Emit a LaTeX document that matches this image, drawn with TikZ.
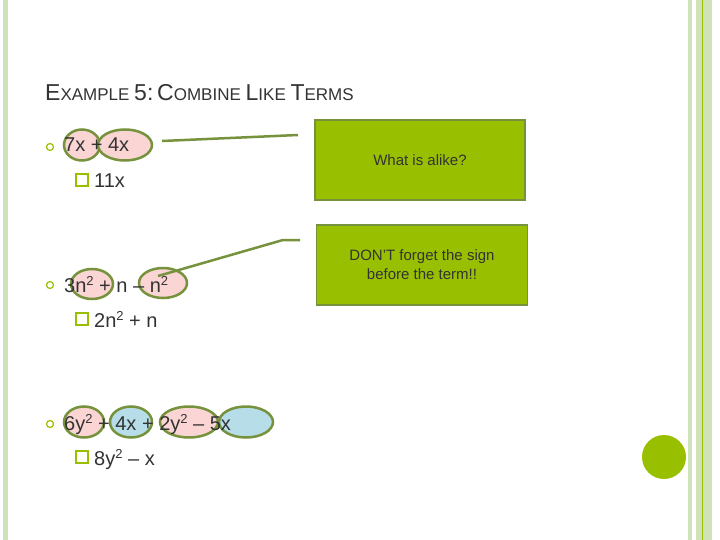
\documentclass[tikz,border=0pt]{standalone}
\usepackage{fontspec}
\setmainfont{Liberation Sans}
\usetikzlibrary{shapes.geometric}
\definecolor{olivec}{HTML}{76923C}
\definecolor{lgreen}{HTML}{99C000}
\definecolor{pinkf}{HTML}{FBD4D4}
\definecolor{bluef}{HTML}{B6DDE8}
\definecolor{stripe}{HTML}{CFE2B9}
\definecolor{txt}{HTML}{333333}
\begin{document}
\begin{tikzpicture}[x=1pt,y=-1pt,
  term/.style={ellipse,draw=olivec,line width=2.5pt,inner sep=0pt},
  body/.style={font=\fontsize{20}{24}\selectfont,text=txt,anchor=base west,inner sep=0pt},
  sub/.style={font=\fontsize{20}{24}\selectfont,text=txt,anchor=base west,inner sep=0pt},
  bul/.style={circle,draw=lgreen,line width=1.2pt,minimum size=7pt,inner sep=0pt},
  sq/.style={rectangle,draw=lgreen,line width=1.2pt,minimum size=12pt,inner sep=0pt},
  callout/.style={rectangle,draw=olivec,line width=1.5pt,fill=lgreen,text=txt,align=center,font=\fontsize{15}{19}\selectfont},
  conn/.style={draw=olivec,line width=2.5pt}]
\useasboundingbox (0,0) rectangle (720,540);
\fill[white] (0,0) rectangle (720,540);
\fill[stripe] (3,0) rectangle (8,540);
\fill[stripe] (688,0) rectangle (692,540);
\fill[stripe] (696,0) rectangle (712,540);
\draw[lgreen,line width=0.8pt] (702,0) -- (702,540);
\node[anchor=base west,inner sep=0pt,text=txt] (title) at (45,101) {\fontsize{23}{26}\selectfont E\fontsize{17}{20}\selectfont XAMPLE \fontsize{23}{26}\selectfont 5:\,C\fontsize{17}{20}\selectfont OMBINE \fontsize{23}{26}\selectfont L\fontsize{17}{20}\selectfont IKE \fontsize{23}{26}\selectfont T\fontsize{17}{20}\selectfont ERMS};
% callout boxes
\node[callout,minimum width=210pt,minimum height=80pt] (b1) at (420,160) {What is alike?};
\node[callout,minimum width=211pt,minimum height=80pt] (b2) at (422,265) {DON'T forget the sign\\before the term!!};
% row 1 ellipses
\node[term,fill=pinkf,minimum width=36pt,minimum height=31pt] (e1) at (82,145) {};
\node[term,fill=pinkf,minimum width=54pt,minimum height=31pt] (e2) at (125,145) {};
\node[bul] (p1) at (50,147) {};
\node[body] (t1) at (64,152) {7x + 4x};
\node[sq] (s1) at (82,180) {};
\node[sub] (u1) at (94,188) {11x};
\coordinate (c1s) at (162,141);
\coordinate (c1) at (298,135);
\draw[conn] (c1s) -- (c1);
% row 2
\node[term,fill=pinkf,minimum width=42pt,minimum height=30pt] (e3) at (92,284) {};
\node[term,fill=pinkf,minimum width=48pt,minimum height=30pt] (e4) at (163,283) {};
\node[bul] (p2) at (50,285) {};
\node[body] (t2) at (64,292) {3n\raisebox{7pt}{\fontsize{13}{13}\selectfont 2} + n – n\raisebox{7pt}{\fontsize{13}{13}\selectfont 2}};
\node[sq] (s2) at (82,319) {};
\node[sub] (u2) at (94,327) {2n\raisebox{7pt}{\fontsize{13}{13}\selectfont 2} + n};
\coordinate (c2s) at (158,276);
\coordinate (c2a) at (283,240);
\coordinate (c2b) at (300,240);
\draw[conn] (c2s) -- (c2a) -- (c2b);
% row 3
\node[term,fill=pinkf,minimum width=40pt,minimum height=31pt] (e5) at (84,422) {};
\node[term,fill=bluef,minimum width=42pt,minimum height=31pt] (e6) at (131,422) {};
\node[term,fill=pinkf,minimum width=58pt,minimum height=31pt] (e7) at (189,422) {};
\node[term,fill=bluef,minimum width=54pt,minimum height=31pt] (e8) at (246,422) {};
\node[bul] (p3) at (50,424) {};
\node[body] (t3) at (64,430) {6y\raisebox{7pt}{\fontsize{13}{13}\selectfont 2} + 4x + 2y\raisebox{7pt}{\fontsize{13}{13}\selectfont 2} – 5x};
\node[sq] (s3) at (82,457) {};
\node[sub] (u3) at (94,465) {8y\raisebox{7pt}{\fontsize{13}{13}\selectfont 2} – x};
% circle
\fill[lgreen] (664,457) circle (22);
\end{tikzpicture}
\end{document}
